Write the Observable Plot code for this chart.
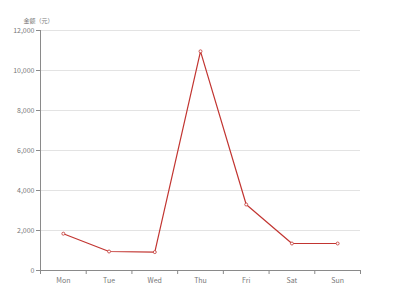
<!DOCTYPE html>
<html><head><meta charset="utf-8">
<script src="https://cdn.jsdelivr.net/npm/d3@7"></script>
<script src="https://cdn.jsdelivr.net/npm/@observablehq/plot@0.6"></script>
<style>body{margin:0;background:#fff}</style>
</head><body><div id="chart"></div>
<script>
const days = ["Mon", "Tue", "Wed", "Thu", "Fri", "Sat", "Sun"];
const amounts = [1840, 950, 920, 10960, 3300, 1350, 1350];
const yTicks = [0, 2000, 4000, 6000, 8000, 10000, 12000];
const yTitle = "金额（元）";

const data = days.map((d, i) => ({i: i + 0.5, day: d, v: amounts[i]}));
const fmt = d3.format(",");
const axisColor = "#8a8a8a";
const textColor = "#777777";
const lineColor = "#c23531";

const chart = Plot.plot({
  width: 400, height: 300,
  marginLeft: 40, marginRight: 40, marginTop: 30, marginBottom: 30,
  style: {fontFamily: "'Noto Sans CJK SC', 'Noto Sans', sans-serif", fontSize: "7px", color: textColor, background: "#fff"},
  x: {type: "linear", domain: [0, days.length], axis: null},
  y: {domain: [0, 12000], axis: null},
  marks: [
    Plot.gridY(yTicks.filter(t => t > 0), {stroke: "#e3e3e3", strokeOpacity: 1}),
    Plot.axisY(yTicks, {tickSize: 4, tickFormat: fmt, stroke: axisColor, fill: textColor, tickPadding: 2, label: null}),
    Plot.ruleX([0], {stroke: axisColor}),
    Plot.ruleY([0], {stroke: axisColor}),
    Plot.axisX(d3.range(days.length + 1), {tickSize: 4, tickFormat: () => "", stroke: axisColor, label: null}),
    Plot.axisX(data.map(d => d.i), {tickSize: 0, tickPadding: 8, tickFormat: v => days[Math.round(v - 0.5)], fill: textColor, label: null}),
    Plot.line(data, {x: "i", y: "v", stroke: lineColor, strokeWidth: 1.2}),
    Plot.dot(data, {x: "i", y: "v", r: 1.5, stroke: lineColor, fill: "#fff", strokeWidth: 0.8}),
    Plot.text([yTitle], {frameAnchor: "top-left", dy: -12, dx: -2, textAnchor: "middle", fill: textColor, fontSize: 6})
  ]
});
document.getElementById("chart").appendChild(chart);
</script>
</body></html>
